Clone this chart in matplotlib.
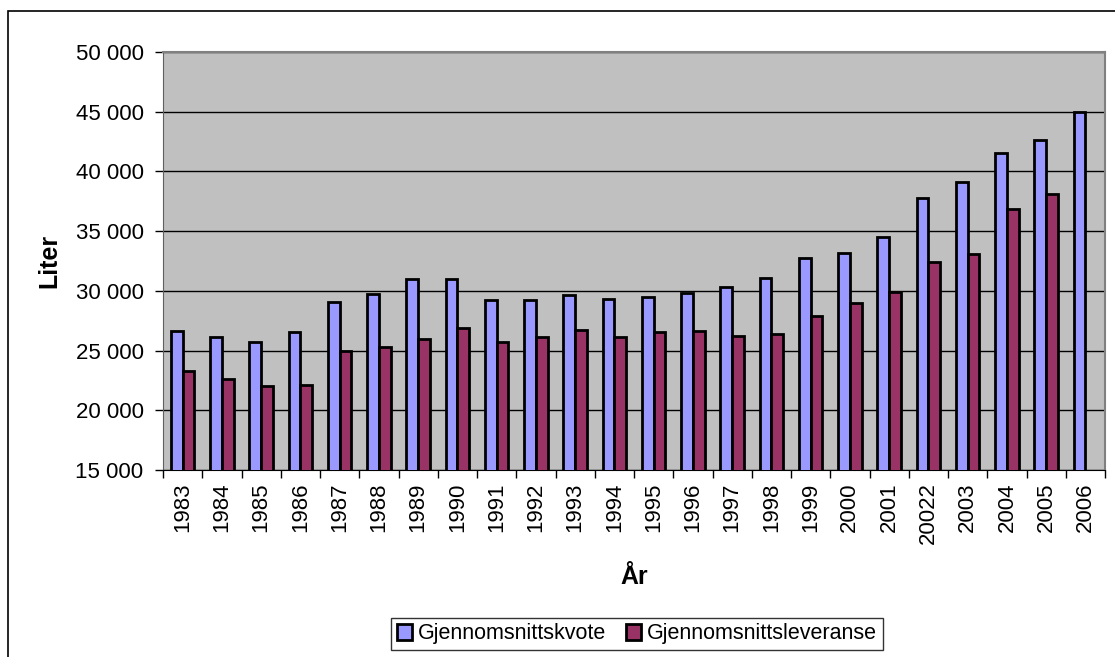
import numpy as np
import matplotlib.pyplot as plt
from matplotlib.patches import Rectangle
from matplotlib.ticker import FuncFormatter

plt.rcParams['font.family'] = ['Liberation Sans', 'DejaVu Sans']

years = ['1983', '1984', '1985', '1986', '1987', '1988', '1989', '1990',
         '1991', '1992', '1993', '1994', '1995', '1996', '1997', '1998',
         '1999', '2000', '2001', '20022', '2003', '2004', '2005', '2006']
kvote = [26600, 26100, 25700, 26550, 29100, 29750, 31000, 31000,
         29200, 29250, 29650, 29300, 29500, 29800, 30300, 31100,
         32750, 33150, 34500, 37800, 39150, 41550, 42650, 45000]
leveranse = [23300, 22600, 22050, 22100, 25000, 25300, 26000, 26900,
             25700, 26100, 26700, 26100, 26550, 26600, 26200, 26350,
             27900, 29000, 29900, 32400, 33050, 36850, 38100, np.nan]

blue   = '#9999FF'
maroon = '#993366'

fig = plt.figure(figsize=(11.15, 6.57), dpi=100)
ax  = fig.add_axes([163/1115, 1-470/657, (1105-163)/1115, (470-52)/657])

# chart border (only left/top edges fall inside the image)
fig.patches.append(Rectangle((8/1115, -0.1), 1.2, 1-11/657+0.1, transform=fig.transFigure,
                             fill=False, edgecolor='black', linewidth=1.2))

x = np.arange(len(years))
w = 0.3
ax.bar(x - w/2, kvote, w, color=blue, edgecolor='black', linewidth=2,
       label='Gjennomsnittskvote', zorder=3)
ax.bar(x + w/2, leveranse, w, color=maroon, edgecolor='black', linewidth=2,
       label='Gjennomsnittsleveranse', zorder=3)

ax.set_facecolor('#C0C0C0')
ax.set_xlim(-0.5, len(years) - 0.5)
ax.set_ylim(15000, 50000)
ax.set_yticks(np.arange(15000, 50001, 5000))
ax.yaxis.set_major_formatter(FuncFormatter(lambda v, p: '{:,.0f}'.format(v).replace(',', ' ')))
ax.grid(axis='y', color='black', linewidth=1, zorder=1)

ax.set_xticks(x)
ax.set_xticklabels(years, rotation=90)
ax.set_xticks(np.arange(-0.5, len(years), 1), minor=True)
ax.tick_params(axis='x', which='major', length=0, pad=9, labelsize=16)
ax.tick_params(axis='x', which='minor', length=6, width=1, direction='out')
ax.tick_params(axis='y', length=6, width=1, direction='out', pad=8, labelsize=16)

for s in ['top', 'right']:
    ax.spines[s].set_color('#808080')
    ax.spines[s].set_linewidth(1.5)
ax.spines['left'].set_color('#606060')
ax.spines['bottom'].set_color('black')

ax.set_ylabel('Liter', fontsize=18, fontweight='bold', labelpad=10)
ax.set_xlabel('År', fontsize=18, fontweight='bold', labelpad=15)

leg = ax.legend(loc='center', bbox_to_anchor=(637/1115, 1-634/657), bbox_transform=fig.transFigure,
                ncol=2, fontsize=15.5, frameon=True, fancybox=False, edgecolor='black',
                handlelength=0.7, handleheight=0.7, handletextpad=0.3, columnspacing=0.9,
                borderpad=0.25)
leg.get_frame().set_linewidth(1)

fig.savefig('out.png', dpi=100)
